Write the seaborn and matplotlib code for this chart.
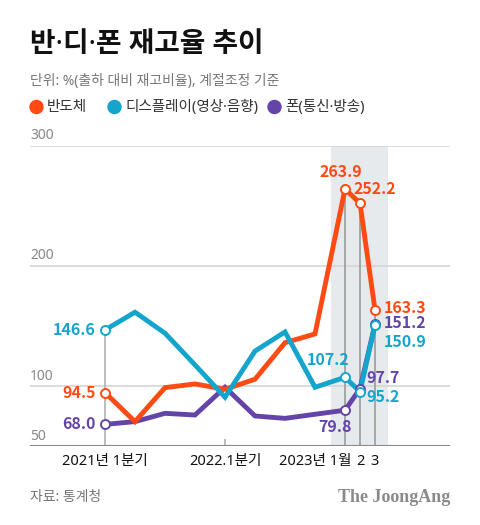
import pandas as pd
import numpy as np
import matplotlib.pyplot as plt
import matplotlib.transforms as mtransforms
from matplotlib.patches import Ellipse
import seaborn as sns

# x positions: 8 quarters (2021Q1-2022Q4), then 2023 Jan, Feb, Mar
xpos = [0, 1, 2, 3, 4, 5, 6, 7, 8, 8.5, 9]
semi = [94.5, 70.3, 98.6, 101.7, 97.2, 105.6, 136.0, 143.3, 263.9, 252.2, 163.3]      # 반도체
display = [146.6, 161.4, 143.9, 117.5, 90.6, 129.0, 145.0, 98.9, 107.2, 95.2, 150.9]  # 디스플레이
phone = [68.0, 70.3, 77.2, 75.8, 98.9, 75.0, 73.0, 76.4, 79.8, 97.7, 151.2]           # 폰
series_names = ['반도체', '디스플레이(영상·음향)', '폰(통신·방송)']
colors = ['#FF4A14', '#14A5CC', '#6544A8']
yticks = [50, 100, 200, 300]
xlabels = ['2021년 1분기', '2022.1분기', '2023년 1월', '2', '3']
xlabel_pos = [0, 4, 8, 8.5, 9]

df = pd.DataFrame({'x': xpos * 3,
                   'value': semi + display + phone,
                   'series': [series_names[0]] * len(xpos) + [series_names[1]] * len(xpos) + [series_names[2]] * len(xpos)})

sns.set_style("white")
# Noto Sans first so the middle dot stays narrow, CJK for hangul
plt.rcParams['font.family'] = ['Noto Sans', 'Noto Sans CJK KR', 'DejaVu Sans']

fig = plt.figure(figsize=(4.8, 5.25), dpi=100)
ax = fig.add_axes([0.0625, 1 - 446 / 525, 0.875, (446 - 145.7) / 525])
ax.set_xlim(-2.5, 11.5)
ax.set_ylim(50, 300)

# shaded 2023 monthly region
ax.axvspan(7.53, 9.43, color='#E6EAED', zorder=0, lw=0)

# grid lines
for v in [100, 200, 300]:
    ax.axhline(v, color='#D5D5D5', lw=1.2, zorder=1)
ax.axhline(50, color='#888888', lw=1.5, zorder=5)

# vertical guides
ax.vlines(0, 50, display[0], color='#B0B0B0', lw=1.2, zorder=2)
for i in [8, 9, 10]:
    ax.vlines(xpos[i], 50, max(semi[i], display[i], phone[i]), color='#9A9A9A', lw=1.2, zorder=2)
ax.vlines(4, 50, 56, color='#B0B0B0', lw=1.2, zorder=2)

pal = dict(zip(series_names, colors))
for name, z in zip([series_names[2], series_names[0], series_names[1]], [3, 4, 5]):
    sns.lineplot(data=df[df['series'] == name], x='x', y='value', color=pal[name],
                 lw=3.5, ax=ax, zorder=z, legend=False, solid_joinstyle='miter')

# hollow markers
mark_idx = [0, 8, 9, 10]
for vals, c in zip([phone, semi, display], [colors[2], colors[0], colors[1]]):
    ax.scatter([xpos[i] for i in mark_idx], [vals[i] for i in mark_idx], s=42,
               facecolor='white', edgecolor=c, linewidth=1.4, zorder=7)

ax.set_xticks([])
ax.set_yticks([])
ax.set_xlabel('')
ax.set_ylabel('')
for s in ax.spines.values():
    s.set_visible(False)

# y tick labels above grid lines
trans = mtransforms.blended_transform_factory(ax.transAxes, ax.transData)
for v in yticks:
    ax.text(0.0, v + 2, str(v), transform=trans, ha='left', va='bottom',
            fontsize=10, color='#888888')

# x labels
for lab, p in zip(xlabels, xlabel_pos):
    ha = 'right' if lab.startswith('2023') else 'center'
    xx = p + 0.2 if ha == 'right' else p
    ax.text(xx, 43, lab, ha=ha, va='top', fontsize=10.5, color='#111111')

# value annotations
fs = 11.5
def lab(x, y, t, c, ha='left', va='center'):
    ax.text(x, y, t, ha=ha, va=va, fontsize=fs, color=c, fontweight='bold',
            family=['Noto Sans CJK KR'])

lab(-0.3, 146.6, '146.6', colors[1], ha='right')
lab(-0.3, 94.5, '94.5', colors[0], ha='right')
lab(-0.3, 68.0, '68.0', colors[2], ha='right')
lab(7.85, 278, '263.9', colors[0], ha='center')
lab(8.27, 264, '252.2', colors[0])
lab(9.3, 164.5, '163.3', colors[0])
lab(9.3, 152.5, '151.2', colors[2])
lab(9.3, 136.5, '150.9', colors[1])
lab(7.45, 121.5, '107.2', colors[1], ha='center')
lab(8.72, 106.5, '97.7', colors[2])
lab(8.72, 90.5, '95.2', colors[1])
lab(7.67, 66, '79.8', colors[2], ha='center')

# header
fig.text(30 / 480, 1 - 45 / 525, '반·디·폰 재고율 추이', fontsize=20, fontweight='black',
         color='#111111', ha='left', va='center')
fig.text(30 / 480, 1 - 82 / 525, '단위: %(출하 대비 재고비율), 계절조정 기준', fontsize=10,
         color='#777777', ha='left', va='center')
leg_x = [30, 108, 268]
for name, c, lx in zip(series_names, colors, leg_x):
    fig.add_artist(Ellipse(((lx + 6.5) / 480, 1 - 107 / 525), 13 / 480, 13 / 525,
                           transform=fig.transFigure, color=c))
    fig.text((lx + 17) / 480, 1 - 107 / 525, name, fontsize=10.5, color='#333333',
             ha='left', va='center')

# footer
fig.text(30 / 480, 1 - 497 / 525, '자료: 통계청', fontsize=10, color='#777777',
         ha='left', va='center')
fig.text(450 / 480, 1 - 497 / 525, 'The JoongAng', fontsize=13, color='#8A8A8A',
         ha='right', va='center', family=['Liberation Serif'], fontweight='bold')

fig.savefig('out.png', dpi=100)
